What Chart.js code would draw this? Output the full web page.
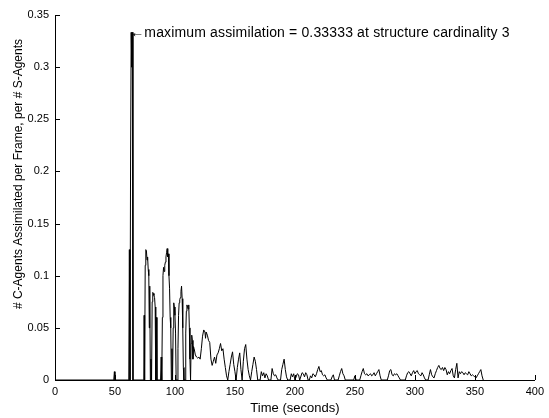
<!DOCTYPE html>
<html>
<head>
<meta charset="utf-8">
<title>Assimilation per frame</title>
<script src="https://cdn.jsdelivr.net/npm/chart.js@4.4.0/dist/chart.umd.min.js"></script>
<style>
    html, body { margin: 0; padding: 0; background: #fff; }
    #wrap { width: 549px; height: 418px; }
</style>
</head>
<body>
<div id="wrap"><canvas id="assim-chart" width="549" height="418"></canvas></div>
<script>
// time (s) and assimilated C-agents per frame, per S-agent
const timeSeconds = [
    0, 49, 49.5, 50, 61.5, 62, 62.5, 63, 63.5, 64, 64.5, 65,
    74, 74.3, 74.7, 75.2, 75.7, 76.2, 76.7, 77.2, 77.7, 78.2, 78.6, 79, 79.5, 80, 80.5,
    81, 81.5, 82, 82.5, 83, 83.5, 84, 84.5, 85,
    88, 88.5, 89, 89.5, 90, 90.5, 91, 91.5, 92, 92.5, 93, 93.5, 94, 94.5, 95, 95.5, 96, 96.5,
    97, 97.5, 98, 98.5, 99, 99.5, 100, 100.5, 101, 102, 102.5, 103, 103.5, 104, 104.5,
    105, 105.5, 106, 106.5, 107, 107.5, 108.5, 109, 109.5, 110, 110.5, 111, 111.5, 112,
    112.5, 113, 113.5, 114, 114.5, 115, 115.5, 116, 117, 118, 119, 120, 121, 122, 123,
    124, 125, 125.5, 126, 127, 128, 129, 130, 131, 132, 133, 134, 135, 136, 137, 138,
    139, 140, 141, 142, 143, 144, 145, 146, 147, 148, 149, 150, 151, 152, 153, 154, 155,
    156, 157, 158, 159, 160, 161, 162, 163, 164, 165, 166, 167, 168, 169,
    171, 172, 173, 174, 175, 176, 177, 178, 180, 181, 182, 183, 184, 185, 186,
    188, 189, 190, 191, 192, 193, 194, 196, 197, 198, 199, 200, 202, 203, 204,
    206, 207, 208, 209, 210, 211, 212, 213, 214, 215, 216, 217, 218, 219, 220, 221,
    222, 223, 224, 225, 226, 227, 230, 231, 232, 233, 236, 237, 238, 239, 240, 241, 242,
    249, 250, 251, 254, 255, 256, 257, 258, 259, 260, 261, 262, 263, 264, 265, 266,
    267, 268, 269, 270, 271, 272, 277, 278, 279, 280, 281, 282, 283, 284, 285, 286,
    287, 288, 292, 293, 294, 295, 296, 297, 298, 299, 300, 301, 302, 303, 304, 305,
    306, 307, 308, 309, 311, 312, 313, 314, 315, 316, 317, 318, 319, 320, 321, 322,
    323, 324, 325, 326, 327, 328, 329, 330, 331, 332, 333, 334, 335, 336, 337, 338,
    339, 340, 341, 342, 343, 344, 345, 346, 347, 348, 349, 350, 351, 352, 353, 354,
    355, 356, 357
];
const assimilated = [
    0, 0, 0.008, 0, 0, 0.125, 0, 0.21, 0.33333, 0.3, 0.33333, 0,
    0, 0.062, 0, 0.11, 0.125, 0.124, 0.115, 0.118, 0.106, 0.1, 0.05, 0.09, 0, 0.02, 0,
    0.075, 0.084, 0.083, 0.081, 0.079, 0.07, 0, 0.06, 0,
    0, 0.022, 0, 0.06, 0.1, 0.108, 0.104, 0.11, 0.113, 0.118, 0.122, 0.126, 0.118, 0.121, 0.1, 0.088, 0.06, 0.05,
    0, 0.03, 0, 0.05, 0.074, 0.07, 0.062, 0.045, 0, 0, 0.03, 0.062, 0.074, 0.077, 0.079,
    0.085, 0.09, 0.078, 0.05, 0.012, 0, 0, 0.045, 0.066, 0.072, 0.07, 0.068, 0.072, 0.05,
    0.02, 0, 0.035, 0.043, 0.038, 0.02, 0.032, 0.03, 0.024, 0.022, 0.021, 0.022, 0.02, 0.03, 0.042,
    0.048, 0.046, 0.04, 0.046, 0.043, 0.038, 0.036, 0.02, 0.014, 0.018, 0.022, 0.016, 0.024, 0.026, 0.03, 0.035,
    0.028, 0.03, 0.02, 0.012, 0.004, 0, 0.008, 0.015, 0.022, 0.027, 0.015, 0.008, 0, 0.012, 0.02, 0.026, 0.01,
    0, 0.018, 0.03, 0.034, 0.02, 0.01, 0.004, 0, 0.008, 0.015, 0.022, 0.018, 0.01, 0,
    0, 0.008, 0.004, 0.007, 0.002, 0.006, 0.004, 0, 0, 0.011, 0.006, 0.004, 0.005, 0.002, 0,
    0, 0.01, 0.015, 0.02, 0.01, 0.003, 0, 0, 0.006, 0.003, 0.006, 0, 0.006, 0.005, 0,
    0.007, 0.006, 0.003, 0.007, 0.005, 0, 0, 0.004, 0.002, 0.006, 0.005, 0.003, 0.006, 0.01, 0.013, 0.008,
    0.009, 0.005, 0.004, 0.005, 0.002, 0, 0, 0.003, 0.005, 0, 0, 0.004, 0.008, 0.011, 0.006, 0.004, 0,
    0, 0.004, 0, 0, 0.004, 0.008, 0.011, 0.006, 0.005, 0.006, 0.004, 0.005, 0.006, 0.004, 0.005, 0.007,
    0.004, 0.006, 0.008, 0.01, 0.004, 0, 0, 0.004, 0.009, 0.01, 0.005, 0.004, 0.006, 0.005, 0.006, 0.004,
    0.002, 0, 0, 0.004, 0.007, 0.008, 0.006, 0.004, 0.007, 0.009, 0.006, 0.008, 0.009, 0.006, 0.005, 0.004,
    0.007, 0.005, 0.002, 0, 0, 0.005, 0.01, 0.005, 0.003, 0.002, 0.006, 0.009, 0.012, 0.014, 0.011, 0.01,
    0.012, 0.009, 0.012, 0.01, 0.005, 0.008, 0.006, 0.009, 0.011, 0.004, 0.002, 0.01, 0.016, 0.002, 0.008, 0.006,
    0.008, 0.007, 0.005, 0.007, 0.006, 0.005, 0.008, 0.006, 0.004, 0.005, 0.004, 0.003, 0.002, 0.004, 0.006, 0.008,
    0.01, 0.004, 0
];
const xTicks = [0, 50, 100, 150, 200, 250, 300, 350, 400];
const yTicks = [0, 0.05, 0.1, 0.15, 0.2, 0.25, 0.3, 0.35];

const peakTime = 63.5;
const peakValue = 0.33333;
const peakNote = '\u2190maximum assimilation = 0.33333 at structure cardinality 3';
const xTitle = 'Time (seconds)';
const yTitle = '# C-Agents Assimilated per Frame, per # S-Agents';

const FONT = '"Liberation Sans", Arial, Helvetica, sans-serif';

// inward tick marks, rotated y label and the peak annotation
const matlabAxes = {
    id: 'matlabAxes',
    afterDraw(chart) {
        const ctx = chart.ctx;
        const xs = chart.scales.x, ys = chart.scales.y;
        const area = chart.chartArea;
        ctx.save();
        ctx.strokeStyle = '#000';
        ctx.lineWidth = 1;
        ctx.beginPath();
        xTicks.forEach(v => {
            const px = Math.round(xs.getPixelForValue(v)) + 0.5;
            ctx.moveTo(px, area.bottom);
            ctx.lineTo(px, area.bottom - 5);
        });
        yTicks.forEach(v => {
            const py = Math.round(ys.getPixelForValue(v)) + 0.5;
            ctx.moveTo(area.left, py);
            ctx.lineTo(area.left + 5, py);
        });
        ctx.stroke();

        ctx.fillStyle = '#000';
        ctx.font = '14px ' + FONT;
        ctx.letterSpacing = '0.15px';
        ctx.textAlign = 'left';
        ctx.textBaseline = 'middle';
        ctx.fillText(peakNote, xs.getPixelForValue(peakTime) - 1, ys.getPixelForValue(peakValue) + 1);
        ctx.letterSpacing = '0px';

        ctx.translate(19, 174);
        ctx.rotate(-Math.PI / 2);
        ctx.textAlign = 'center';
        ctx.font = '12px ' + FONT;
        ctx.fillText(yTitle, 0, 0);
        ctx.restore();
    }
};

const tickText = v => String(Number(v.toFixed(4)));

new Chart(document.getElementById('assim-chart'), {
    type: 'scatter',
    data: {
        datasets: [{
            data: timeSeconds.map((t, i) => ({ x: t, y: assimilated[i] })),
            showLine: true,
            borderColor: '#000',
            borderWidth: 1,
            pointRadius: 0,
            tension: 0
        }]
    },
    options: {
        responsive: false,
        animation: false,
        layout: { padding: { top: 15, right: 9, bottom: 0, left: 0 } },
        plugins: {
            legend: { display: false },
            tooltip: { enabled: false }
        },
        scales: {
            x: {
                type: 'linear',
                min: 0,
                max: 400,
                afterBuildTicks: s => { s.ticks = xTicks.map(v => ({ value: v })); },
                afterFit: s => { s.height = 38; },
                grid: { display: false, drawTicks: false },
                border: { display: true, color: '#000', width: 1 },
                ticks: { color: '#000', font: { family: FONT, size: 11 }, padding: 5, maxRotation: 0, callback: tickText },
                title: { display: true, text: xTitle, color: '#000', font: { family: FONT, size: 13 }, padding: { top: 0, bottom: 2 } }
            },
            y: {
                min: 0,
                max: 0.35,
                afterBuildTicks: s => { s.ticks = yTicks.map(v => ({ value: v })); },
                afterFit: s => { s.width = 55; },
                grid: { display: false, drawTicks: false },
                border: { display: true, color: '#000', width: 1 },
                ticks: { color: '#000', font: { family: FONT, size: 11 }, padding: 6, callback: tickText }
            }
        }
    },
    plugins: [matlabAxes]
});
</script>
</body>
</html>
